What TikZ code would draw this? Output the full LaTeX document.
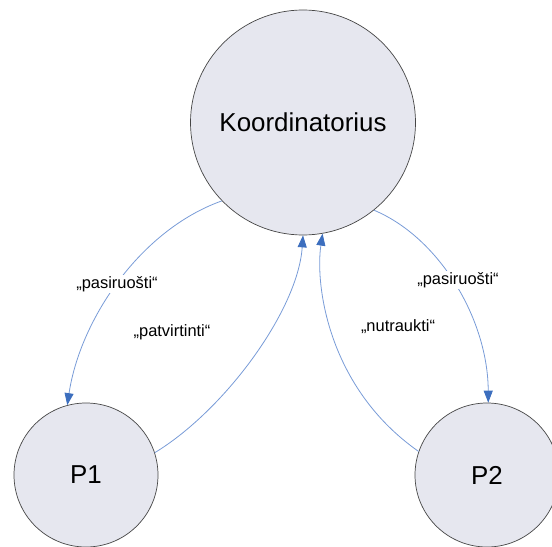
\documentclass[tikz,border=0pt]{standalone}
\usepackage{fontspec}
\setmainfont{Liberation Sans}
\usetikzlibrary{arrows.meta}
\definecolor{nodefill}{RGB}{230,231,239}
\definecolor{nodeline}{RGB}{70,70,70}
\definecolor{linkblue}{RGB}{120,155,215}
\definecolor{tipblue}{RGB}{60,110,190}
\tikzset{
  party/.style={circle, draw=nodeline, fill=nodefill, line width=0.7bp, inner sep=0pt, font=\fontsize{26}{30}\selectfont},
  link/.style={draw=linkblue, line width=0.8bp, -{Triangle[length=12bp,width=9bp,color=tipblue]}},
  msg/.style={font=\fontsize{16.5}{20}\selectfont, inner sep=1.5bp}
}
\begin{document}
\begin{tikzpicture}[x=1bp,y=-1bp]
  \useasboundingbox (0,0) rectangle (552,547);
  % participants
  \node[party, minimum size=225bp] (K) at (303,122.5) {Koordinatorius};
  \node[party, minimum size=144bp] (P1) at (86,475) {P1};
  \node[party, minimum size=144bp] (P2) at (487,475) {P2};
  % messages
  \draw[link] (K.224) .. controls (140,230) and (80,320) .. (P1.105);
  \draw[link] (P1.18) .. controls (225,410) and (298,310) .. (K.270);
  \draw[link] (P2.161) .. controls (328,388) and (315,285) .. (K.280);
  \draw[link] (K.309) .. controls (440,238) and (488,320) .. (P2.89);
  % labels
  \node[msg, fill=white] (l1) at (117,284) {„pasiruošti“};
  \node[msg] (l2) at (172,332) {„patvirtinti“};
  \node[msg] (l3) at (398,327) {„nutraukti“};
  \node[msg, fill=white] (l4) at (458,280) {„pasiruošti“};
\end{tikzpicture}
\end{document}
